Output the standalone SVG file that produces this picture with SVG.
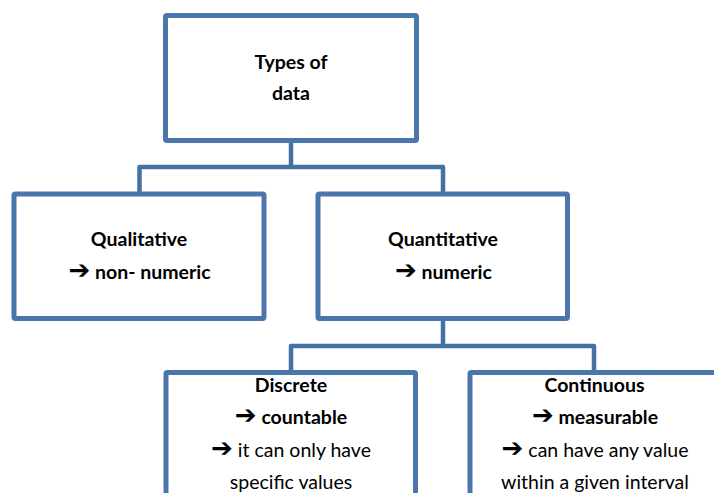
<svg xmlns="http://www.w3.org/2000/svg" width="714" height="493" viewBox="0 0 714 493">
<style>
.box{fill:#fff;stroke:#4A76AB;stroke-width:5;}
.conn{fill:none;stroke:#4470A3;stroke-width:4.5;stroke-linejoin:round;}
text{font-family:Lato,"Liberation Sans",sans-serif;font-size:19.5px;fill:#000;text-anchor:middle;}
.b{font-weight:bold;}
.arr{font-family:"DejaVu Sans",sans-serif;font-weight:bold;font-size:26px;}
</style>
<rect width="714" height="493" fill="#fff"/>
<g id="connectors">
<path class="conn" d="M291 142 V167"/>
<path class="conn" d="M139.5 194 V167 H443 V194"/>
<path class="conn" d="M443 320 V346"/>
<path class="conn" d="M291 372 V346 H594 V372"/>
</g>
<g id="types">
<rect class="box" x="165.5" y="15.5" width="251" height="125" rx="1.5"/>
<text class="b" x="291" y="68.5">Types of</text>
<text class="b" x="291" y="99.5">data</text>
</g>
<g id="qualitative">
<rect class="box" x="14" y="194" width="250" height="124.5" rx="1.5"/>
<text class="b" x="139" y="246">Qualitative</text>
<text class="b" x="139.5" y="279"><tspan class="arr">➔</tspan> non- numeric</text>
</g>
<g id="quantitative">
<rect class="box" x="318" y="194" width="249.5" height="124.5" rx="1.5"/>
<text class="b" x="443" y="246">Quantitative</text>
<text class="b" x="443.5" y="279"><tspan class="arr">➔</tspan> numeric</text>
</g>
<g id="discrete">
<rect class="box" x="166" y="372.5" width="249.5" height="135" rx="1.5"/>
<text class="b" x="291" y="392">Discrete</text>
<text class="b" x="291" y="424"><tspan class="arr">➔</tspan> countable</text>
<text x="291" y="457"><tspan class="arr">➔</tspan> it can only have</text>
<text x="291" y="489">specific values</text>
</g>
<g id="continuous">
<rect class="box" x="470" y="372.5" width="249.5" height="135" rx="1.5"/>
<text class="b" x="594.5" y="392">Continuous</text>
<text class="b" x="595" y="424"><tspan class="arr">➔</tspan> measurable</text>
<text x="595" y="457"><tspan class="arr">➔</tspan> can have any value</text>
<text x="595" y="489">within a given interval</text>
</g>
</svg>
